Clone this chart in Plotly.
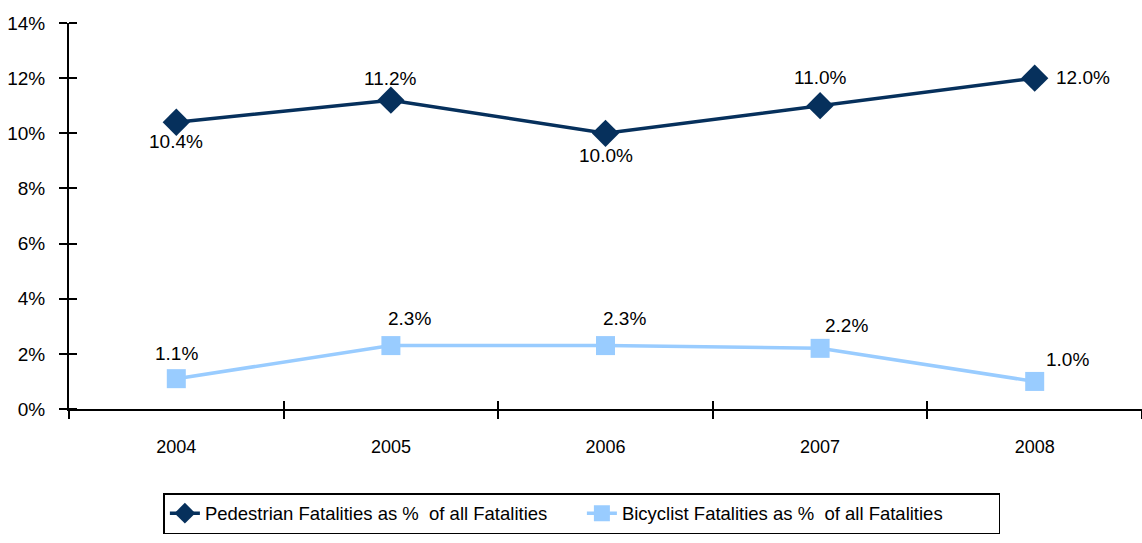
import plotly.graph_objects as go

years = ["2004", "2005", "2006", "2007", "2008"]
pedestrian = [0.104, 0.112, 0.100, 0.110, 0.120]
bicyclist = [0.011, 0.023, 0.023, 0.022, 0.010]
ped_name = "Pedestrian Fatalities as %  of all Fatalities"
bic_name = "Bicyclist Fatalities as %  of all Fatalities"

# label offsets (pixels) for the data labels
ped_dx = [0, 0, 0, 0, 48]
ped_dy = [-19, 22, -22, 28, 1]
bic_dx = [0, 19, 19, 26, 33]
bic_dy = [25, 27, 27, 23, 22]

FONT = "Liberation Sans, Arial, sans-serif"
NAVY = "#06305c"
LIGHT = "#99ccff"

fig = go.Figure()
fig.add_trace(go.Scatter(
    x=years, y=pedestrian, name=ped_name, mode="lines+markers",
    line=dict(color=NAVY, width=3.5),
    marker=dict(symbol="diamond", size=21, color=NAVY),
))
fig.add_trace(go.Scatter(
    x=years, y=bicyclist, name=bic_name, mode="lines+markers",
    line=dict(color=LIGHT, width=3.5),
    marker=dict(symbol="square", size=19, color=LIGHT),
))
# invisible trace on overlay axis to carry inside ticks
fig.add_trace(go.Scatter(x=years, y=bicyclist, xaxis="x2", mode="none",
                         showlegend=False, hoverinfo="skip"))

annotations = []
for vals, dxs, dys in ((pedestrian, ped_dx, ped_dy), (bicyclist, bic_dx, bic_dy)):
    for i, (v, dx, dy) in enumerate(zip(vals, dxs, dys)):
        annotations.append(dict(x=i, y=v, xref="x", yref="y", text=f"{v*100:.1f}%",
                                showarrow=False, xshift=dx, yshift=dy,
                                font=dict(family=FONT, size=19, color="black")))

fig.update_layout(
    width=1142, height=543,
    margin=dict(l=69, r=0, t=23, b=134),
    paper_bgcolor="white", plot_bgcolor="white",
    font=dict(family=FONT, size=18, color="black"),
    showlegend=True,
    annotations=annotations,
    legend=dict(orientation="h", x=0.478, xanchor="center", y=-0.218, yanchor="top",
                bordercolor="black", borderwidth=1.5,
                font=dict(family=FONT, size=18.5, color="black"),
                entrywidth=372, tracegroupgap=0),
    xaxis=dict(type="category", range=[-0.5, 4.5], showgrid=False, automargin=False,
               showline=True, linecolor="black", linewidth=2,
               ticks="outside", tickson="boundaries", ticklen=8, tickwidth=2, tickcolor="black",
               ticklabelstandoff=20,
               tickfont=dict(family=FONT, size=18), zeroline=False),
    xaxis2=dict(type="category", overlaying="x", matches="x", range=[-0.5, 4.5],
                showgrid=False, showline=False, ticks="inside", tickson="boundaries",
                ticklen=8, tickwidth=2, tickcolor="black", showticklabels=False,
                side="bottom", anchor="y", automargin=False),
    yaxis=dict(range=[0, 0.14], dtick=0.02, tickformat=".0%", showgrid=False, automargin=False,
               showline=True, linecolor="black", linewidth=2, zeroline=False,
               ticks="outside", ticklen=8, tickwidth=2, tickcolor="black",
               ticklabelstandoff=10,
               minor=dict(ticks="inside", dtick=0.02, ticklen=8, tickwidth=2, tickcolor="black"),
               tickfont=dict(family=FONT, size=19)),
)

fig.write_html("out.html", config={"displayModeBar": False},
               post_script="document.body.style.margin='0';")
